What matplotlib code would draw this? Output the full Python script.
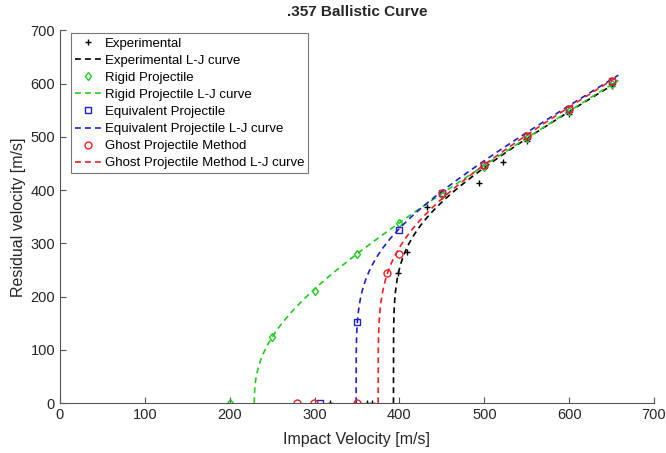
import numpy as np
import matplotlib
matplotlib.use("Agg")
import matplotlib.pyplot as plt

plt.rcParams['font.family'] = ['Liberation Sans', 'DejaVu Sans']

# ---- data ----
exp_vi = [318, 362, 368, 398, 409, 432, 494, 522, 550, 600, 650]
exp_vr = [0, 0, 0, 244, 283, 368, 413, 452, 493, 543, 596]

rigid_vi = [200, 250, 300, 350, 400, 450, 500, 550, 600, 650]
rigid_vr = [0, 124, 210, 280, 338, 390, 444, 497, 549, 599]

equiv_vi = [306, 350, 399, 450, 500, 550, 600, 650]
equiv_vr = [0, 152, 325, 394, 448, 501, 553, 604]

ghost_vi = [279, 299, 350, 385, 400, 450, 500, 550, 600, 650]
ghost_vr = [0, 0, 0, 244, 280, 394, 448, 501, 553, 604]

# Lambert-Jonas fit parameters (a, p, v_bl)
lj_exp = (0.925, 6.0, 393.0)
lj_rigid = (0.949, 2.5, 229.0)
lj_equiv = (0.944, 5.0, 349.0)
lj_ghost = (0.945, 5.0, 375.0)
vi_max = 658.0

xticks = [0, 100, 200, 300, 400, 500, 600, 700]
yticks = [0, 100, 200, 300, 400, 500, 600, 700]


def lj_curve(params):
    a, p, vbl = params
    vi = np.concatenate([[vbl], vbl + np.geomspace(1e-4, vi_max - vbl, 400)])
    vr = a * np.clip(vi ** p - vbl ** p, 0, None) ** (1.0 / p)
    return np.concatenate([[vbl], vi]), np.concatenate([[0.0], vr])


c_k = '#000000'
c_g = '#1fcc1f'
c_b = '#1f1fcc'
c_r = '#ee2020'

fig = plt.figure(figsize=(6.66, 4.53), dpi=100)
ax = fig.add_axes([0.090, 0.110, 0.892, 0.823])

dash = (0, (3.5, 2.5))
lw = 1.2

ax.plot(exp_vi, exp_vr, linestyle='none', marker='+', ms=5, mew=1.0,
        color=c_k, label='Experimental')
x, y = lj_curve(lj_exp)
ax.plot(x, y, linestyle=dash, lw=lw, color=c_k, label='Experimental L-J curve')

ax.plot(rigid_vi, rigid_vr, linestyle='none', marker='d', ms=4.5, mew=1.0,
        mfc='none', color=c_g, label='Rigid Projectile')
x, y = lj_curve(lj_rigid)
ax.plot(x, y, linestyle=dash, lw=lw, color=c_g, label='Rigid Projectile L-J curve')

ax.plot(equiv_vi, equiv_vr, linestyle='none', marker='s', ms=4, mew=1.0,
        mfc='none', color=c_b, label='Equivalent Projectile')
x, y = lj_curve(lj_equiv)
ax.plot(x, y, linestyle=dash, lw=lw, color=c_b, label='Equivalent Projectile L-J curve')

ax.plot(ghost_vi, ghost_vr, linestyle='none', marker='o', ms=5, mew=1.0,
        mfc='none', color=c_r, label='Ghost Projectile Method')
x, y = lj_curve(lj_ghost)
ax.plot(x, y, linestyle=dash, lw=lw, color=c_r, label='Ghost Projectile Method L-J curve')

ax.set_xlim(0, 700)
ax.set_ylim(0, 700)
ax.set_xticks(xticks)
ax.set_yticks(yticks)
gray = '#262626'
for s in ['top', 'right']:
    ax.spines[s].set_visible(False)
for s in ['left', 'bottom']:
    ax.spines[s].set_color('#555555')
    ax.spines[s].set_linewidth(0.8)
ax.tick_params(direction='in', length=4, width=0.8, colors='#555555',
               labelcolor=gray, labelsize=10.5)

ax.set_xlabel('Impact Velocity [m/s]', fontsize=11.5, color=gray, labelpad=7)
ax.set_ylabel('Residual velocity [m/s]', fontsize=11.5, color=gray, labelpad=3)
ax.set_title('.357 Ballistic Curve', fontsize=11, fontweight='bold', color=gray, pad=10)

leg = ax.legend(loc='upper left', bbox_to_anchor=(0.018, 0.992), fontsize=9.5,
                frameon=True, fancybox=False, handlelength=2.0, handletextpad=0.3,
                borderpad=0.3, labelspacing=0.37, borderaxespad=0.0)
leg.get_frame().set_edgecolor('#555555')
leg.get_frame().set_linewidth(0.8)

fig.savefig('out.png', dpi=100)
